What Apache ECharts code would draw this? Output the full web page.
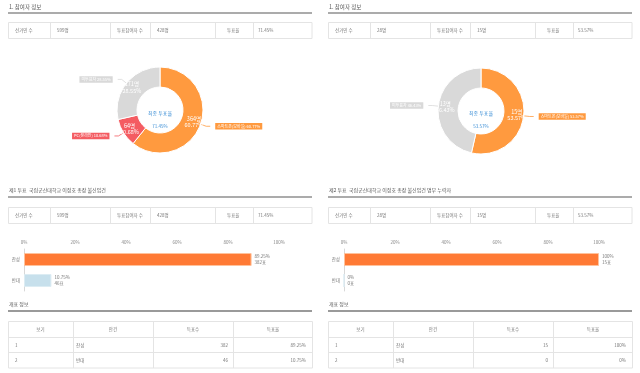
<!DOCTYPE html>
<html><head><meta charset="utf-8">
<script src="https://cdn.jsdelivr.net/npm/echarts@6/dist/echarts.min.js"></script>
<style>html,body{margin:0;padding:0;background:#fff}#c{width:640px;height:373px}</style>
</head><body><div id="c"></div>
<script>
// ---------- data ----------
const sectionTitles = ['1. 참여자 정보', '1. 참여자 정보'];
const voteTitles = ['제1 투표  국립군산대학교 이정호 총장 불신임건', '제2 투표  국립군산대학교 이정호 총장 불신임건 명부 누락자'];
const resultTitle = '개표 정보';
const infoLabels = ['선거인 수', '투표참여자 수', '투표율'];
const infoValuesL = ['599명', '428명', '71.45%'];
const infoValuesR = ['28명', '15명', '53.57%'];
const centerTitle = '최종 투표율';

const pieNamesL = ['스마트폰(모바일)', 'PC(온라인)', '미투표자'];
const pieCountsL = [364, 64, 171];
const piePctL = ['60.77', '10.68', '28.55'];
const pieNamesR = ['스마트폰(모바일)', '미투표자'];
const pieCountsR = [15, 13];
const piePctR = ['53.57', '46.43'];

const barCategories = ['찬성', '반대'];
const barPctL = [89.25, 10.75];
const barVotesL = [382, 46];
const barPctR = [100, 0];
const barVotesR = [15, 0];

const tableHeaders = ['보기', '안건', '득표수', '득표율'];
const optionNo = ['1', '2'];
const optionNames = ['찬성', '반대'];
const tableVotesL = ['382', '46'];
const tablePctL = ['89.25%', '10.75%'];
const tableVotesR = ['15', '0'];
const tablePctR = ['100%', '0%'];

// ---------- style ----------
const FONT = '"Noto Sans CJK KR", "Noto Sans", sans-serif';
const C_ORANGE = '#ff9a3f', C_RED = '#f45c62', C_GREY = '#d9d9d9';
const C_BAR = '#ff7a35', C_BAR2 = '#c7e0ec';
const TXT = '#777', BORDER = '#e4e4e4';

function txt(x, y, s, opt) {
  return Object.assign({type: 'text', x, y, silent: true,
    style: Object.assign({text: s, fill: TXT, font: '5px ' + FONT, textVerticalAlign: 'middle', textAlign: 'left'}, opt || {})});
}
function line(x1, y1, x2, y2, c, w) {
  return {type: 'line', silent: true, shape: {x1, y1, x2, y2}, style: {stroke: c, lineWidth: w}};
}
function rect(x, y, w, h, stroke) {
  return {type: 'rect', silent: true, shape: {x, y, width: w, height: h}, style: {fill: 'none', stroke: stroke, lineWidth: 1}};
}

function panelGraphics(ox, idx, infoVals, tVotes, tPct, cx) {
  const g = [];
  g.push(txt(ox + 9, 7, sectionTitles[idx], {fill: '#555', font: '5.5px ' + FONT}));
  g.push(line(ox + 8, 13, ox + 312, 13, '#8f8f8f', 1.5));
  g.push(txt(ox + 9, 190, voteTitles[idx], {fill: '#555', font: '5px ' + FONT}));
  g.push(line(ox + 8, 197, ox + 312, 197, '#8f8f8f', 1.5));
  g.push(txt(ox + 9, 304, resultTitle, {fill: '#555', font: '5px ' + FONT}));
  g.push(line(ox + 8, 311, ox + 312, 311, '#9a9a9a', 2));
  const cols = [8, 50, 110, 150, 215, 253, 312];
  const tx = [15, 57, 117, 157, 227, 258];
  [22, 207].forEach(function (ty) {
    g.push(rect(ox + 8.5, ty + 0.5, 303.5, 16, BORDER));
    for (let i = 1; i < cols.length - 1; i++) g.push(line(ox + cols[i] + 0.5, ty, ox + cols[i] + 0.5, ty + 16, BORDER, 1));
    for (let i = 0; i < 3; i++) {
      g.push(txt(ox + tx[i * 2], ty + 8.5, infoLabels[i], {font: '4.5px ' + FONT}));
      g.push(txt(ox + tx[i * 2 + 1], ty + 8.5, infoVals[i], {font: '4.5px ' + FONT}));
    }
  });
  g.push(txt(cx, 113, centerTitle, {fill: '#3d8fd6', textAlign: 'center', font: '5px ' + FONT}));
  g.push(txt(cx, 126, infoVals[2], {fill: '#3d8fd6', textAlign: 'center', font: '4.5px ' + FONT}));
  const rc = [8, 73, 153, 233, 313];
  const ry = [321, 337, 352, 368];
  g.push(rect(ox + 8.5, 321.5, 304, 46.5, BORDER));
  for (let i = 1; i < rc.length - 1; i++) g.push(line(ox + rc[i] + 0.5, 321, ox + rc[i] + 0.5, 368, BORDER, 1));
  for (let j = 1; j < ry.length - 1; j++) g.push(line(ox + 8, ry[j] + 0.5, ox + 313, ry[j] + 0.5, BORDER, 1));
  for (let i = 0; i < 4; i++) g.push(txt(ox + (rc[i] + rc[i + 1]) / 2, 329.5, tableHeaders[i], {textAlign: 'center', font: '4.5px ' + FONT}));
  for (let r = 0; r < 2; r++) {
    const y = (ry[r + 1] + ry[r + 2]) / 2 + 0.5;
    g.push(txt(ox + 15, y, optionNo[r], {font: '4.5px ' + FONT}));
    g.push(txt(ox + 76, y, optionNames[r], {font: '4.5px ' + FONT}));
    g.push(txt(ox + 228, y, tVotes[r], {textAlign: 'right', font: '4.5px ' + FONT}));
    g.push(txt(ox + 306, y, tPct[r], {textAlign: 'right', font: '4.5px ' + FONT}));
  }
  return g;
}

function pieSeries(center, names, counts, pcts, colors) {
  const dataMain = names.map(function (n, i) {
    return {name: n, value: counts[i], itemStyle: {color: colors[i]},
      label: {backgroundColor: colors[i]}, labelLine: {lineStyle: {color: colors[i]}}};
  });
  const dataInner = names.map(function (n, i) { return {name: n, value: counts[i]}; });
  return [{
    type: 'pie', center: center, radius: [23, 43], startAngle: 90, clockwise: true, silent: true,
    avoidLabelOverlap: false,
    itemStyle: {borderColor: '#fff', borderWidth: 1},
    label: {position: 'outside', color: '#fff', fontSize: 4, fontFamily: FONT, padding: [1.5, 2, 1, 2],
      formatter: function (p) { return p.name + ' ' + pcts[p.dataIndex] + '%'; }},
    labelLine: {length: 6, length2: 4, lineStyle: {width: 0.8}},
    data: dataMain
  }, {
    type: 'pie', center: center, radius: [23, 43], startAngle: 90, clockwise: true, silent: true, z: 5,
    itemStyle: {color: 'rgba(0,0,0,0)'},
    label: {position: 'inside', color: '#fff', fontSize: 5.5, lineHeight: 6.5, fontFamily: FONT,
      formatter: function (p) { return p.value + '명\n' + pcts[p.dataIndex] + '%'; }},
    labelLine: {show: false},
    data: dataInner
  }];
}

function barSeries(gi, pcts, votes) {
  return {
    type: 'bar', xAxisIndex: gi, yAxisIndex: gi, barWidth: 13, silent: true,
    data: pcts.map(function (v, i) {
      return {value: v, itemStyle: {color: i === 0 ? C_BAR : C_BAR2, borderColor: i === 0 ? '#ffc29c' : '#dcecf3', borderWidth: 1}};
    }),
    label: {show: true, position: 'right', distance: 3, color: TXT, fontSize: 4.5, lineHeight: 5.5, fontFamily: FONT,
      formatter: function (p) { return pcts[p.dataIndex] + '%\n' + votes[p.dataIndex] + '표'; }}
  };
}

function xAxis(gi) {
  return {type: 'value', gridIndex: gi, position: 'top', min: 0, max: 100, interval: 20,
    axisLine: {show: false}, axisTick: {show: false}, splitLine: {show: false},
    axisLabel: {color: '#888', fontSize: 4.5, fontFamily: FONT, margin: 4, formatter: '{value}%'}};
}
function yAxis(gi) {
  return {type: 'category', gridIndex: gi, inverse: true, data: barCategories,
    axisLine: {show: true, lineStyle: {color: '#d8d8d8'}}, axisTick: {show: false},
    axisLabel: {color: TXT, fontSize: 4.5, fontFamily: FONT, margin: 4}};
}

const chart = echarts.init(document.getElementById('c'), null, {renderer: 'canvas'});
chart.setOption({
  animation: false,
  backgroundColor: '#fff',
  grid: [
    {left: 24, top: 249, width: 255, height: 42},
    {left: 344, top: 249, width: 255, height: 42}
  ],
  xAxis: [xAxis(0), xAxis(1)],
  yAxis: [yAxis(0), yAxis(1)],
  series: [].concat(
    pieSeries([160, 110], pieNamesL, pieCountsL, piePctL, [C_ORANGE, C_RED, C_GREY]),
    pieSeries([481, 111], pieNamesR, pieCountsR, piePctR, [C_ORANGE, C_GREY]),
    [barSeries(0, barPctL, barVotesL), barSeries(1, barPctR, barVotesR)]
  ),
  graphic: [].concat(
    panelGraphics(0, 0, infoValuesL, tableVotesL, tablePctL, 160),
    panelGraphics(320, 1, infoValuesR, tableVotesR, tablePctR, 481)
  )
});
</script></body></html>
